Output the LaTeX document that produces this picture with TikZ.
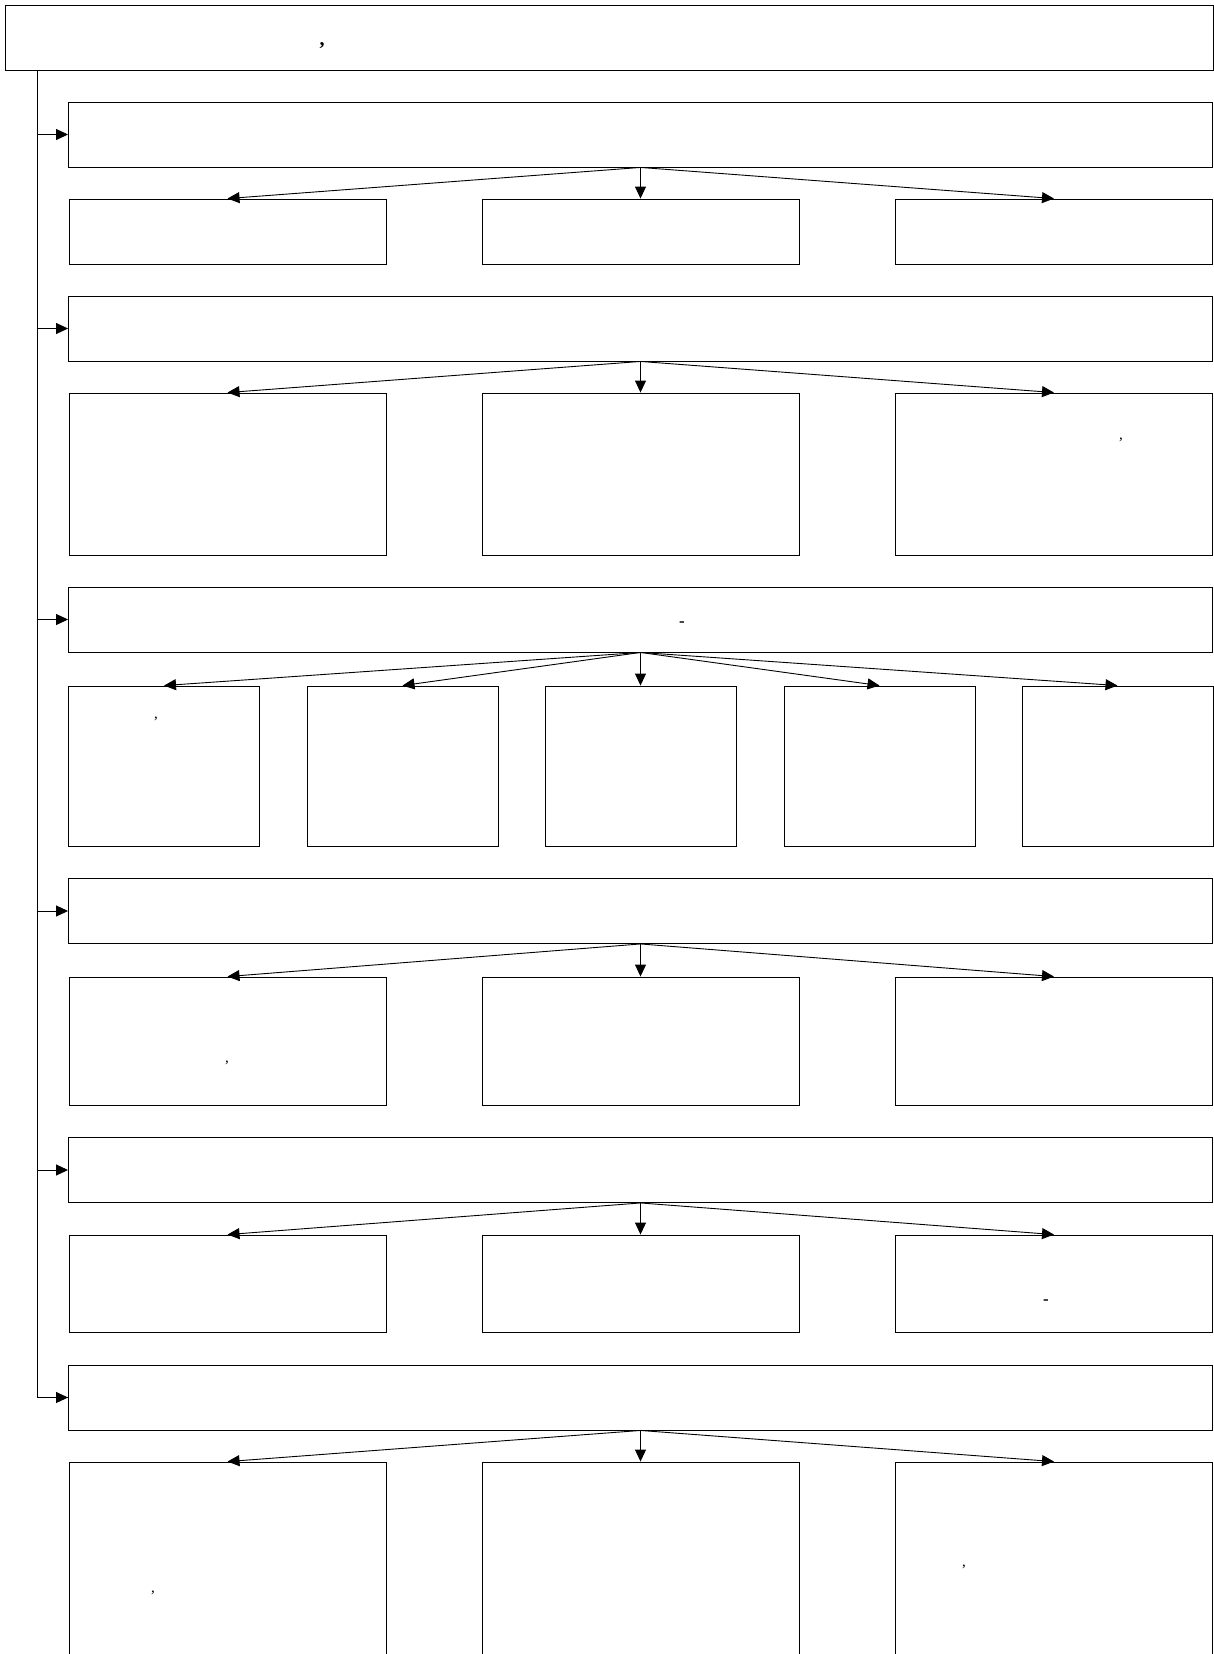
\documentclass[tikz,border=0pt]{standalone}
\usepackage{fontspec}
\setmainfont{Liberation Serif}
\usetikzlibrary{arrows.meta}
\begin{document}
\begin{tikzpicture}[x=1pt,y=-1pt,
  box/.style={draw=black,line width=0.9pt,rectangle,inner sep=0pt,fill=none},
  arr/.style={line width=0.9pt,-{Triangle[length=12pt,width=11pt]}},
  conn/.style={line width=0.9pt},
  punct/.style={inner sep=0pt,anchor=base,font=\fontsize{15}{17}\selectfont},
  hyph/.style={inner sep=0pt,anchor=base,font=\fontsize{17}{19}\selectfont\bfseries},
  toppunct/.style={inner sep=0pt,anchor=base,font=\fontsize{20}{22}\selectfont\bfseries}]
\useasboundingbox (0,0) rectangle (1214,1654);
\clip (0,0) rectangle (1214,1654);
\fill[white] (0,0) rectangle (1214,1654);
% top box
\node[box,minimum width=1208pt,minimum height=65pt] (top) at (609,37.5) {};
% level boxes
\foreach \n/\y in {L1/134.5,L2/328.5,L3/619.5,L4/911,L5/1170,L6/1397.5}{
  \node[box,minimum width=1144pt,minimum height=65pt] (\n) at (640.5,\y) {};
}
% row 1
\foreach \i/\x in {1/227.5,2/640.5,3/1054}{
  \node[box,minimum width=317pt,minimum height=65pt] (a\i) at (\x,231.5) {};
}
% row 2
\foreach \i/\x in {1/227.5,2/640.5,3/1054}{
  \node[box,minimum width=317pt,minimum height=162pt] (b\i) at (\x,474) {};
}
% row 3
\foreach \i/\x in {1/164,2/402.5,3/640.5,4/879.5,5/1117.5}{
  \node[box,minimum width=191pt,minimum height=160pt] (c\i) at (\x,766) {};
}
% row 4
\foreach \i/\x in {1/227.5,2/640.5,3/1054}{
  \node[box,minimum width=317pt,minimum height=128pt] (d\i) at (\x,1041) {};
}
% row 5
\foreach \i/\x in {1/227.5,2/640.5,3/1054}{
  \node[box,minimum width=317pt,minimum height=97pt] (e\i) at (\x,1283.5) {};
}
% row 6 (runs off the page)
\foreach \i/\x in {1/227.5,2/640.5,3/1054}{
  \node[box,minimum width=317pt,minimum height=292pt] (f\i) at (\x,1608) {};
}
% trunk
\coordinate (tr) at (37,70);
\draw[conn] (tr) |- (L6.west);
\draw[arr] (L6.west -| tr) -- (L6.west);
\foreach \n in {L1,L2,L3,L4,L5}{
  \draw[arr] (\n.west -| tr) -- (\n.west);
}
% fan-out arrows
\foreach \i in {1,2,3}{
  \draw[arr] (L1.south) -- (a\i.north);
  \draw[arr] (L2.south) -- (b\i.north);
  \draw[arr] (L4.south) -- (d\i.north);
  \draw[arr] (L5.south) -- (e\i.north);
  \draw[arr] (L6.south) -- (f\i.north);
}
\foreach \i in {1,...,5}{
  \draw[arr] (L3.south) -- (c\i.north);
}
% visible punctuation
\node[toppunct] (p0) at (322,46) {,};
\node[punct] (p1) at (1121,439) {,};
\node[hyph] (p2) at (682,626) {-};
\node[punct] (p3) at (156,718) {,};
\node[punct] (p4) at (227,1062) {,};
\node[hyph] (p5) at (1046,1304) {-};
\node[punct] (p6) at (153,1592) {,};
\node[punct] (p7) at (964,1566) {,};
\end{tikzpicture}
\end{document}
